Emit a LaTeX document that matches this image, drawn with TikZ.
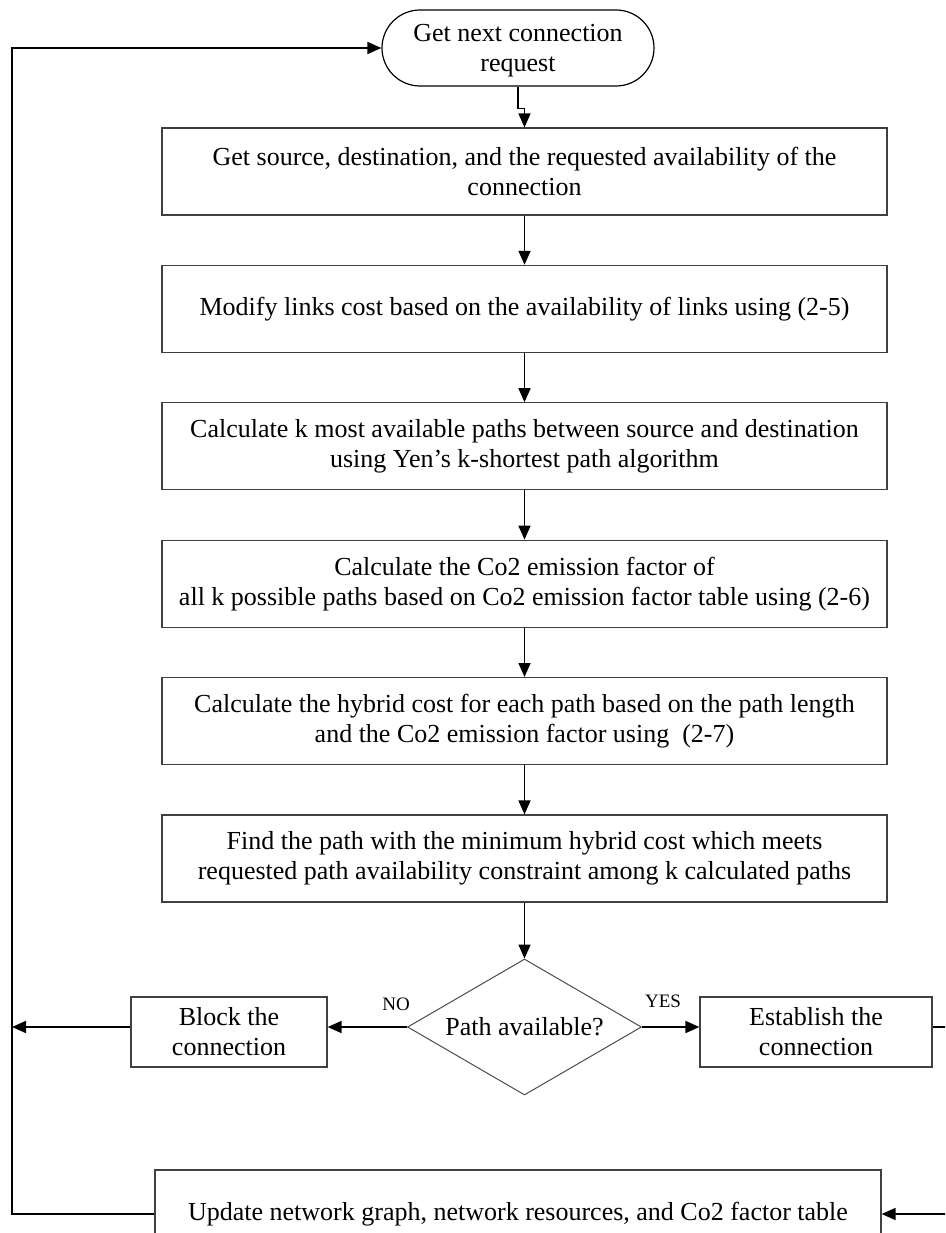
\documentclass[tikz,border=0pt]{standalone}
\usepackage{fontspec}
\setmainfont{Liberation Serif}
\usetikzlibrary{arrows.meta,shapes.geometric}
\begin{document}
\begin{tikzpicture}[x=1pt,y=-1pt,
  every node/.style={font=\fontsize{26}{30}\selectfont, align=center, inner sep=0pt},
  box/.style={draw=black!75, line width=1.2pt, minimum width=725pt, minimum height=87pt},
  smallbox/.style={draw=black!75, line width=1.2pt, minimum width=196pt, minimum height=70pt},
  term/.style={draw=black, line width=1.2pt, rounded corners=38pt, minimum width=272pt, minimum height=76pt},
  decision/.style={draw=black!70, line width=1pt, diamond, aspect=1.72, minimum width=234pt, minimum height=136pt},
  lbl/.style={font=\fontsize{19}{22}\selectfont},
  arr/.style={draw=black, line width=1.6pt, -{Triangle[length=14pt,width=12pt]}}
]
\useasboundingbox (0,0) rectangle (945,1233);
\clip (0,0) rectangle (945,1233);
\fill[white] (0,0) rectangle (945,1233);

% process flow
\node[term] (start) at (518,48) {};
\node (starttext) at (518,51) {Get next connection\\request};
\node[box] (b1) at (524.5,171.5) {Get source, destination, and the requested availability of the\\connection};
\node[box] (b2) at (524.5,308.9) {Modify links cost based on the availability of links using (2-5)};
\node[box] (b3) at (524.5,446.3) {Calculate k most available paths between source and destination\\using Yen's k-shortest path algorithm};
\node[box] (b4) at (524.5,583.7) {Calculate the Co2 emission factor of\\all k possible paths based on Co2 emission factor table using (2-6)};
\node[box] (b5) at (524.5,721.1) {Calculate the hybrid cost for each path based on the path length\\and the Co2 emission factor using\ \ (2-7)};
\node[box] (b6) at (524.5,858.5) {Find the path with the minimum hybrid cost which meets\\requested path availability constraint among k calculated paths};
\node[decision] (dec) at (524.5,1027) {Path available?};
\node[smallbox] (blk) at (229,1032) {Block the\\connection};
\node[smallbox, minimum width=232pt] (est) at (816,1032) {Establish the\\connection};
\node[box, minimum width=726pt, minimum height=88pt] (upd) at (518,1214) {Update network graph, network resources, and Co2 factor table};

\node[lbl] (no) at (396,1004) {NO};
\node[lbl] (yes) at (663,1001) {YES};

% return rails
\coordinate (L) at (12,0);
\coordinate (R) at (952,0);

% connectors
\draw[arr] (start.south) -- ++(0,22) -| (b1.north);
\draw[arr] (b1.south) -- (b2.north);
\draw[arr] (b2.south) -- (b3.north);
\draw[arr] (b3.south) -- (b4.north);
\draw[arr] (b4.south) -- (b5.north);
\draw[arr] (b5.south) -- (b6.north);
\draw[arr] (b6.south) -- (dec.north);
\draw[arr] (dec.west) -- (dec.west -| blk.east);
\draw[arr] (dec.east) -- (dec.east -| est.west);
\draw[arr] (blk.west |- dec.west) -- (dec.west -| L);
\draw[arr] (est.east |- dec.east) -- (dec.east -| R) -- (upd.east -| R) -- (upd.east);
\draw[arr] (upd.west) -- (upd.west -| L) -- (start.west -| L) -- (start.west);
\end{tikzpicture}
\end{document}
